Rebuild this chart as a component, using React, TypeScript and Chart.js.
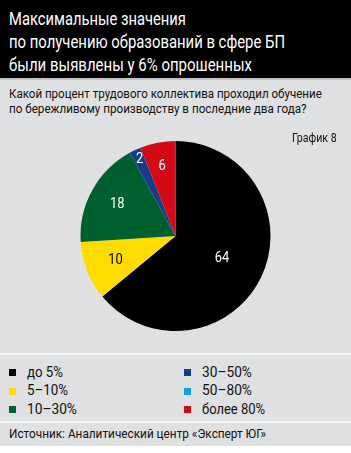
import React, { useEffect, useLayoutEffect, useRef, useState } from "react";
import { Chart, registerables } from "chart.js";

Chart.register(...registerables);

const title = [
  "Максимальные значения",
  "по получению образований в сфере БП",
  "были выявлены у 6% опрошенных",
];
const question = [
  "Какой процент трудового коллектива проходил обучение",
  "по бережливому производству в последние два года?",
];
const chartNo = "График 8";
const categories = ["до 5%", "5–10%", "10–30%", "30–50%", "50–80%", "более 80%"];
const values = [64, 10, 18, 2, 0, 6];
const colors = ["#000000", "#ffdc00", "#005f2f", "#173c8a", "#0ea0e2", "#d20a17"];
const labelColors = ["#ffffff", "#000000", "#ffffff", "#ffffff", "#ffffff", "#ffffff"];
const labelRadius = [0.54, 0.68, 0.7, 0.89, 0.75, 0.75];
const source = "Источник: Аналитический центр «Эксперт ЮГ»";

const FONT = 'Roboto, "Noto Sans", sans-serif';
const SQUEEZE = 0.86;

const labelPlugin = {
  id: "sliceLabels",
  afterDatasetsDraw(chart: any) {
    const ctx = chart.ctx;
    const meta = chart.getDatasetMeta(0);
    ctx.save();
    ctx.font = `15px ${FONT}`;
    ctx.textAlign = "center";
    ctx.textBaseline = "middle";
    meta.data.forEach((arc: any, i: number) => {
      const v = values[i];
      if (!v) return;
      const p = arc.getProps(["x", "y", "startAngle", "endAngle", "outerRadius"], true);
      const mid = (p.startAngle + p.endAngle) / 2;
      const r = p.outerRadius * labelRadius[i];
      ctx.save();
      ctx.translate(p.x + Math.cos(mid) * r, p.y + Math.sin(mid) * r);
      ctx.scale(SQUEEZE, 1);
      ctx.fillStyle = labelColors[i];
      ctx.fillText(String(v), 0, 0);
      ctx.restore();
    });
    ctx.restore();
  },
};

function FitText(props: {
  text: string;
  left?: number;
  right?: number;
  top: number;
  fs: number;
  width: number;
  color: string;
}) {
  const ref = useRef<HTMLSpanElement | null>(null);
  const [sx, setSx] = useState(1);
  useLayoutEffect(() => {
    if (ref.current) {
      const w = ref.current.offsetWidth;
      if (w > 0) setSx(props.width / w);
    }
  }, [props.text, props.width, props.fs]);
  const style: React.CSSProperties = {
    position: "absolute",
    top: props.top,
    fontSize: props.fs,
    lineHeight: 1,
    color: props.color,
    whiteSpace: "nowrap",
    transform: `scaleX(${sx})`,
    transformOrigin: props.right !== undefined ? "right top" : "left top",
    zIndex: 2,
  };
  if (props.right !== undefined) style.right = props.right;
  else style.left = props.left;
  return (
    <span ref={ref} style={style}>
      {props.text}
    </span>
  );
}

const titleWidths = [177, 276, 243];
const questionWidths = [313, 298];
const legendWidths = [36, 41, 50, 50, 50, 63];

export default function App() {
  const ref = useRef<HTMLCanvasElement | null>(null);
  useEffect(() => {
    if (!ref.current) return;
    const chart = new Chart(ref.current, {
      type: "pie",
      data: {
        labels: categories,
        datasets: [
          {
            data: values,
            backgroundColor: colors,
            borderWidth: 0,
          },
        ],
      },
      options: {
        animation: false,
        responsive: false,
        maintainAspectRatio: false,
        layout: { padding: { top: 5, bottom: 5, left: 0, right: 0 } },
        plugins: { legend: { display: false }, tooltip: { enabled: false } },
      },
      plugins: [labelPlugin],
    });
    return () => chart.destroy();
  }, []);

  const abs = (o: any): React.CSSProperties => ({ position: "absolute", ...o });
  const base = (baseline: number, fs: number) => baseline - 0.842 * fs;

  return (
    <div style={abs({ left: 0, top: 0, width: 351, height: 446, background: "#dfe0e2", fontFamily: FONT, overflow: "hidden" })}>
      <div style={abs({ left: 0, top: 0, width: 351, height: 78, background: "#000", borderBottom: "2px solid #c2c3c5" })} />
      {title.map((t, i) => (
        <FitText key={"t" + i} text={t} left={9} top={base(25.5 + i * 23, 18)} fs={18} width={titleWidths[i]} color="#ffffff" />
      ))}
      {question.map((t, i) => (
        <FitText key={"q" + i} text={t} left={9} top={base(99 + i * 15, 12.5)} fs={12.5} width={questionWidths[i]} color="#111111" />
      ))}
      <canvas ref={ref} width={351} height={200} style={abs({ left: 0, top: 136, width: 351, height: 200 })} />
      <FitText text={chartNo} right={351 - 337} top={base(143, 12.5)} fs={12.5} width={45} color="#111111" />
      <div style={abs({ left: 0, top: 353, width: 351, height: 2, background: "#f4f4f5" })} />
      {categories.map((c, i) => {
        const col = i < 3 ? 0 : 1;
        const row = i % 3;
        const bl = 376.7 + row * 18.3;
        return (
          <React.Fragment key={"l" + i}>
            <div style={abs({ left: col === 0 ? 9 : 184, top: bl - 7.5, width: 7, height: 7, background: colors[i] })} />
            <FitText text={c} left={col === 0 ? 27 : 202} top={base(bl, 14)} fs={14} width={legendWidths[i]} color="#111111" />
          </React.Fragment>
        );
      })}
      <div style={abs({ left: 0, top: 421, width: 351, height: 2, background: "#f4f4f5" })} />
      <FitText text={source} left={9} top={base(438.5, 12.8)} fs={12.8} width={257} color="#111111" />
    </div>
  );
}
